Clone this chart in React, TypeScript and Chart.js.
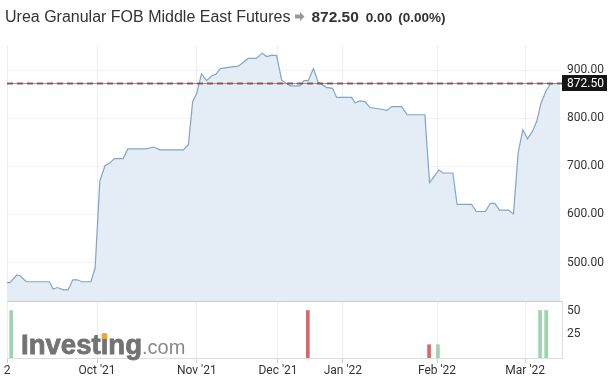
import React, { useEffect, useRef } from "react";
import { Chart, registerables } from "chart.js";
Chart.register(...registerables);

// x positions are trading-session indices (ordinal axis, as on the source chart)
const priceX = [
  0, 0.6, 2.1, 2.9, 4.1, 9.1, 9.9, 10.8, 12.1, 13.1, 14.1, 15.1, 16, 18, 18.9,
  19.9, 21, 22.1, 23, 24.9, 25.9, 29.9, 31.4, 32.8, 37.8, 38.9, 39.8, 40.7, 41.7,
  42.8, 43.9, 44.8, 45.7, 47.8, 49.6, 51.7, 53.5, 54.7, 55.7, 56.8, 57.8, 58.9,
  60.7, 62.8, 63.7, 64.6, 65.7, 66.7, 68.5, 69.8, 70.7, 73.9, 74.6, 75.7, 76.8,
  77.8, 80, 81.5, 82.5, 84.6, 85.8, 89.6, 90.6, 92.6, 93.5, 95.6, 96.5, 99.6,
  100.6, 102.6, 103.6, 104.6, 105.6, 107.5, 108.6, 109.6, 110.6, 111.6, 112.7,
  113.6, 114.5, 115.5, 116.5, 118.6,
];
const priceY = [
  458, 458, 474, 472, 460, 460, 445, 448, 443, 443, 464, 464, 460, 460, 489,
  669, 701, 707, 716, 716, 736, 736, 740, 734, 734, 745, 834, 852, 892,
  878, 888, 891, 903, 906, 908, 924, 924, 935, 928, 931, 930, 879,
  867, 867, 878, 878, 903, 875, 864, 862, 843, 843, 832, 836, 834,
  822, 819, 816, 824, 824, 807, 807, 666, 692, 686, 686, 621, 621,
  606, 606, 623, 623, 609, 609, 601, 728, 776, 757, 773,
  794, 831, 855, 871, 872.5,
];
const volX = [0.9, 64.5, 90.5, 92.4, 114.3, 115.6];
const volY = [50, 50, 14, 14, 50, 50];
const volDir = ["up", "down", "down", "up", "up", "up"];
const monthTicks = [0, 19.3, 40.7, 58.1, 72.0, 92.2, 111.1];
const monthLabels = ["2", "Oct '21", "Nov '21", "Dec '21", "Jan '22", "Feb '22", "Mar '22"];
const priceTicks = [500, 600, 700, 800, 900];
const volTicks = [25, 50];
const lastPrice = 872.5;
const priceMin = 420;
const priceMax = 952;
const volMax = 60;

export default function App() {
  const ref = useRef<HTMLCanvasElement>(null);

  useEffect(() => {
    const canvas = ref.current!;
    const font = { family: "Roboto", size: 12 };

    const overlay = {
      id: "overlay",
      beforeDatasetsDraw(chart: any) {
        const ctx = chart.ctx as CanvasRenderingContext2D;
        const yv = chart.scales.yv;
        const left = chart.chartArea.left;
        const base = yv.bottom - 4;
        ctx.save();
        ctx.textBaseline = "alphabetic";
        ctx.font = 'bold 27px "Liberation Sans"';
        const w = ctx.measureText("Investing").width;
        const sx = 121 / w;
        const x0 = left + 14;
        ctx.save();
        ctx.translate(x0, base);
        ctx.scale(sx, 1);
        ctx.fillStyle = "#737373";
        ctx.strokeStyle = "#737373";
        ctx.lineWidth = 0.8;
        ctx.fillText("Investing", 0, 0);
        ctx.strokeText("Investing", 0, 0);
        const ix = ctx.measureText("Invest").width;
        const iw = ctx.measureText("i").width;
        ctx.fillStyle = "#f5a623";
        ctx.fillRect(ix + 1, -20, iw - 2, 5);
        ctx.restore();
        ctx.font = '20px "Liberation Sans"';
        ctx.fillStyle = "#888888";
        ctx.fillText(".com", x0 + 121, base);
        ctx.restore();
      },
      afterDatasetsDraw(chart: any) {
        const ctx = chart.ctx as CanvasRenderingContext2D;
        const { left, right } = chart.chartArea;
        const y = chart.scales.y;
        ctx.save();
        // panel separator
        ctx.strokeStyle = "#cccccc";
        ctx.lineWidth = 1;
        ctx.beginPath();
        ctx.moveTo(left, Math.round(y.bottom) + 0.5);
        ctx.lineTo(right, Math.round(y.bottom) + 0.5);
        ctx.stroke();
        // last price line
        const py = Math.round(y.getPixelForValue(lastPrice)) + 0.5;
        ctx.strokeStyle = "rgba(214,110,110,0.9)";
        ctx.lineWidth = 1;
        ctx.beginPath();
        ctx.moveTo(left, py);
        ctx.lineTo(right, py);
        ctx.stroke();
        ctx.setLineDash([6, 4]);
        ctx.strokeStyle = "rgba(110,80,80,0.85)";
        ctx.lineWidth = 2;
        ctx.beginPath();
        ctx.moveTo(left, py);
        ctx.lineTo(right, py);
        ctx.stroke();
        ctx.restore();
      },
      afterDraw(chart: any) {
        const ctx = chart.ctx as CanvasRenderingContext2D;
        const { right } = chart.chartArea;
        const y = chart.scales.y;
        const py = y.getPixelForValue(lastPrice);
        ctx.save();
        ctx.fillStyle = "#151515";
        ctx.fillRect(right, Math.round(py) - 8, 45, 16);
        ctx.fillStyle = "#ffffff";
        ctx.font = '12px "Roboto"';
        ctx.textBaseline = "middle";
        ctx.textAlign = "left";
        ctx.fillText(lastPrice.toFixed(2), right + 5, Math.round(py) + 0.5);
        ctx.restore();
      },
    };

    const chart = new Chart(canvas, {
      type: "line",
      data: {
        datasets: [
          {
            type: "line",
            data: priceX.map((x, i) => ({ x, y: priceY[i] })),
            xAxisID: "x",
            yAxisID: "y",
            borderColor: "#7ea6cb",
            backgroundColor: "#e4edf5",
            borderWidth: 1.2,
            fill: "start",
            pointRadius: 0,
            tension: 0,
          } as any,
          {
            type: "bar",
            data: volX.map((x, i) => ({ x, y: volY[i] })),
            xAxisID: "x",
            yAxisID: "yv",
            backgroundColor: volDir.map((d) => (d === "up" ? "#9dd3ae" : "#d9666b")),
            barThickness: 3,
            borderWidth: 0,
          } as any,
        ],
      },
      options: {
        responsive: false,
        animation: false,
        devicePixelRatio: 1,
        layout: { padding: { top: 45, left: 7, right: 0, bottom: 0 } },
        plugins: { legend: { display: false }, tooltip: { enabled: false } },
        scales: {
          x: {
            type: "linear",
            min: 0,
            max: 119,
            offset: false,
            position: "bottom",
            grid: { color: "#eeeeee", offset: false, tickLength: 5, tickColor: "#cccccc" },
            border: { color: "#dddddd" },
            ticks: {
              autoSkip: false,
              maxRotation: 0,
              color: "#333333",
              font,
              padding: 1,
              callback: (_v: any, i: number) => monthLabels[i],
            },
            afterBuildTicks: (a: any) => {
              a.ticks = monthTicks.map((v) => ({ value: v }));
            },
            afterFit: (a: any) => {
              a.height = 27;
            },
          },
          y: {
            type: "linear",
            position: "right",
            stack: "panels",
            stackWeight: 256,
            min: priceMin,
            max: priceMax,
            grid: { color: "#f2f2f2", drawTicks: false },
            border: { display: false },
            ticks: {
              color: "#333333",
              font,
              padding: 5,
              callback: (v: any) => Number(v).toFixed(2),
            },
            afterBuildTicks: (a: any) => {
              a.ticks = priceTicks.map((v) => ({ value: v }));
            },
            afterFit: (a: any) => {
              a.width = 47;
            },
          },
          yv: {
            type: "linear",
            position: "right",
            stack: "panels",
            stackWeight: 57,
            min: 0,
            max: volMax,
            grid: { display: false, drawTicks: false },
            border: { display: true, color: "#dddddd" },
            ticks: { color: "#333333", font, padding: 5 },
            afterBuildTicks: (a: any) => {
              a.ticks = volTicks.map((v) => ({ value: v }));
            },
            afterFit: (a: any) => {
              a.width = 47;
            },
          },
        } as any,
      },
      plugins: [overlay],
    });
    return () => chart.destroy();
  }, []);

  return (
    <div style={{ position: "fixed", left: 0, top: 0, width: 609, height: 385, background: "#fff", overflow: "hidden" }}>
      <canvas ref={ref} width={609} height={385} style={{ position: "absolute", left: 0, top: 0, width: 609, height: 385 }} />
      <div
        style={{
          position: "absolute",
          left: 5,
          top: 8,
          lineHeight: "18px",
          fontFamily: '"Liberation Sans", Arial, sans-serif',
          fontSize: 16,
          color: "#333",
          whiteSpace: "nowrap",
        }}
      >
        <span>Urea Granular FOB Middle East Futures</span>
        <svg width="10" height="9" viewBox="0 0 10 9" style={{ margin: "0 6px 0 5px", verticalAlign: "1px" }}>
          <polygon points="0,2.5 5,2.5 5,0 9.5,4.5 5,9 5,6.5 0,6.5" fill="#999" />
        </svg>
        <b style={{ fontSize: 15.5 }}>872.50</b>
        <b style={{ fontSize: 13.5, marginLeft: 7 }}>0.00</b>
        <b style={{ fontSize: 13.5, marginLeft: 6 }}>(0.00%)</b>
      </div>
    </div>
  );
}
